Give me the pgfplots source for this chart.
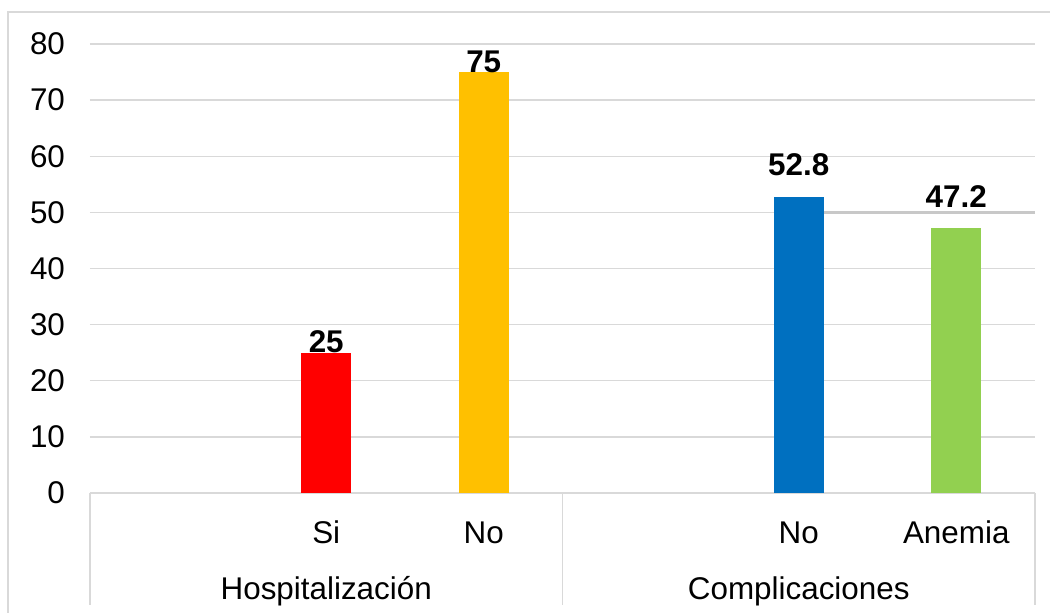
\documentclass[border=0pt]{standalone}
\usepackage{pgfplots}
\pgfplotsset{compat=1.18}
\usepackage{fontspec}
\setmainfont{Liberation Sans}
\definecolor{gridc}{HTML}{D9D9D9}
\definecolor{gridd}{HTML}{C8C8C8}
\definecolor{cred}{HTML}{FF0000}
\definecolor{cyellow}{HTML}{FFC000}
\definecolor{cblue}{HTML}{0070C0}
\definecolor{cgreen}{HTML}{92D050}
\begin{document}
\begin{tikzpicture}
\useasboundingbox (0,0) rectangle (525pt,306.5pt);
\draw[gridc, line width=0.9pt] (4pt,0) -- (4pt,300.5pt) -- (525pt,300.5pt);
\begin{axis}[
  at={(45pt,60pt)}, anchor=south west,
  scale only axis, width=472.5pt, height=224.5pt,
  xmin=0, xmax=6, ymin=0, ymax=80,
  /pgf/number format/assume math mode=true,
  ytick={0,10,...,80},
  xtick={1.5,2.5,4.5,5.5},
  xticklabels={Si,No,No,Anemia},
  ymajorgrids,
  major grid style={gridc, line width=0.65pt},
  axis x line*=bottom, axis y line*=left,
  x axis line style={gridc, line width=0.65pt},
  y axis line style={draw=none},
  major tick length=0pt,
  tick label style={font=\fontsize{15.7pt}{18pt}\selectfont},
  yticklabel style={anchor=east, xshift=-9pt},
  xticklabel style={anchor=base, yshift=-25.5pt},
  clip=false,
  ybar, bar width=25pt, bar shift=0pt,
  nodes near coords,
  every node near coord/.append style={font=\fontsize{15.7pt}{18pt}\selectfont\bfseries, text=black, anchor=base, inner sep=0pt},
]
\addplot[fill=cred, draw=none] coordinates {(1.5,25)};
\addplot[fill=cyellow, draw=none] coordinates {(2.5,75)};
\addplot[fill=cblue, draw=none, every node near coord/.append style={yshift=10.5pt}] coordinates {(4.5,52.8)};
\addplot[fill=cgreen, draw=none, every node near coord/.append style={yshift=10.5pt}] coordinates {(5.5,47.2)};
\draw[gridd, line width=1.5pt] (axis cs:4.66,50) -- (axis cs:6,50);
\draw[gridc, line width=0.65pt] (axis cs:0,0) -- ++(0,-56pt);
\draw[gridc, line width=0.65pt] (axis cs:3,0) -- ++(0,-56pt);
\draw[gridc, line width=0.65pt] (axis cs:6,0) -- ++(0,-56pt);
\node[anchor=base, inner sep=0pt, font=\fontsize{15.7pt}{18pt}\selectfont] at (axis cs:1.5,0) [yshift=-53.5pt] {Hospitalización};
\node[anchor=base, inner sep=0pt, font=\fontsize{15.7pt}{18pt}\selectfont] at (axis cs:4.5,0) [yshift=-53.5pt] {Complicaciones};
\end{axis}
\end{tikzpicture}
\end{document}
